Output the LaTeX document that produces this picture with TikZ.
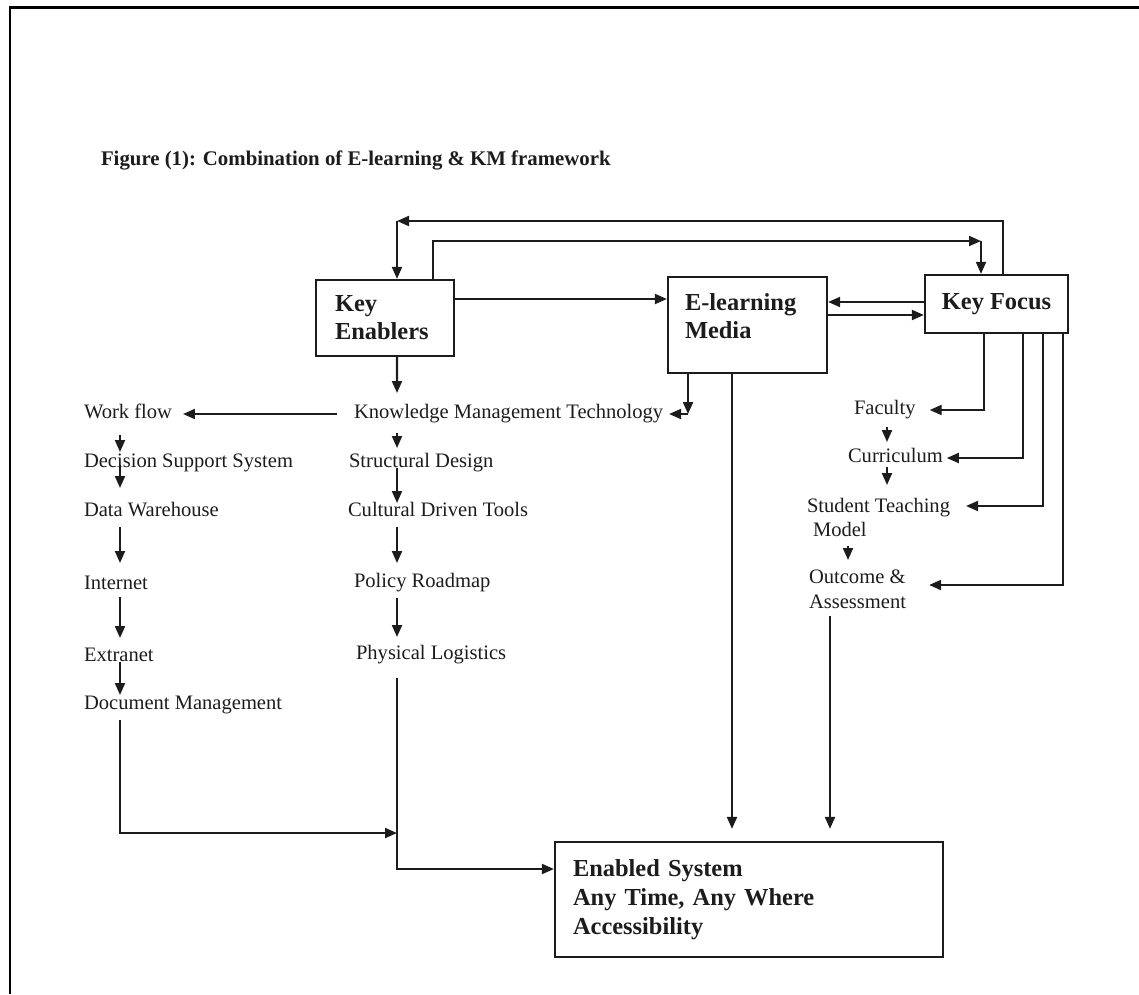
\documentclass[tikz,border=0pt]{standalone}
\usepackage{fontspec}
\setmainfont{Liberation Serif}
\usetikzlibrary{arrows.meta}
\definecolor{ink}{HTML}{1C1C1C}

\begin{document}
\begin{tikzpicture}[x=0.02cm,y=-0.02cm,color=ink,line width=1.15pt,
  arr/.style={-{Triangle[length=2.4mm,width=2mm]}},
  item/.style={anchor=west,inner sep=0pt,text height=8pt,text depth=2.5pt,font=\fontsize{11.7}{14}\selectfont},
  multi/.style={anchor=north west,inner sep=0pt,align=left,font=\fontsize{11.7}{13.9}\selectfont},
  block/.style={draw,line width=1.3pt,inner ysep=0pt,align=left,font=\bfseries\fontsize{13.9}{16}\selectfont}]
\useasboundingbox (0,0) rectangle (1139,994);
\draw[black,line width=0.06cm] (10,994) -- (10,7) -- (1139,7);

\node[anchor=west,inner sep=0pt,font=\bfseries\fontsize{11.85}{14}\selectfont] (title) at (100,160)
  {Figure (1): Combination of E-learning \& KM framework};

% boxes
\node[block,minimum width=2.76cm,minimum height=1.52cm,text width=2.0cm,inner xsep=.38cm] (ke) at (385,318) {Key\\Enablers};
\node[block,minimum width=3.18cm,minimum height=1.92cm,text width=2.5cm,inner xsep=.34cm] (em) at (747.5,325) {E-learning\\Media\\[-6pt]\mbox{}};
\node[block,minimum width=2.86cm,minimum height=1.16cm] (kf) at (996.5,304) {Key Focus};
\node[block,minimum width=7.76cm,minimum height=2.3cm,text width=7.04cm,inner xsep=.36cm,
  font=\bfseries\fontsize{13.9}{16.6}\selectfont] (es) at (749,899.5) {Enabled System\\Any Time, Any Where\\Accessibility};

% texts
\foreach \n/\x/\y/\t in {wf/83/414/Work flow, dss/83/463/Decision Support System, dw/83/512/Data Warehouse,
    int/83/585/Internet, ext/83/657/Extranet, dm/83/705/Document Management,
    kmt/353/414/Knowledge Management Technology, sd/348/463/Structural Design, cdt/347/512/Cultural Driven Tools,
    pr/353/583/Policy Roadmap, pl/355/655/Physical Logistics, fac/853/410/Faculty, cur/847/458/Curriculum}
  \node[item] (\n) at (\x,\y) {\t};
\node[multi] (stm) at (806,497) {Student Teaching\\\hspace{.12cm}Model};
\node[multi] (out) at (808,569) {Outcome \&\\Assessment};

\coordinate (colL) at (120,0);
\coordinate (colM) at (397,0);
\coordinate (colR) at (887,0);
\coordinate (colS) at (848,0);
\coordinate (colT) at (830,0);
\coordinate (tl) at (397,221);
\coordinate (tr) at (981,241);
\coordinate (meet) at (397,833);

% top loops
\draw[arr] ([xshift=.13cm]kf.north) |- (tl);
\draw[arr] (tl) -- (ke.north -| tl);
\draw[arr] ([xshift=.96cm]ke.north) |- (tr);
\draw[arr] (tr) -- (kf.north -| tr);

\draw[arr] ([yshift=.38cm]ke.east) -- ([yshift=.38cm]ke.east -| em.west);
\draw[arr] ([yshift=.04cm]kf.west) -- ([yshift=.04cm]kf.west -| em.east);
\draw[arr] ([yshift=-.22cm]kf.west -| em.east) -- ([yshift=-.22cm]kf.west);

\draw[arr] ([xshift=.24cm]ke.south) -- ([yshift=.42cm]kmt.center -| colM);
\draw[arr] ([xshift=-1.19cm]em.south) -- ([xshift=-1.19cm]em.south |- kmt.east);
\draw[arr] ([xshift=-1.19cm]em.south |- kmt.east) -- ([xshift=.1cm]kmt.east);
\draw[arr,shorten >=.24cm] ([xshift=-.31cm]em.south) -- ([xshift=-.31cm]em.south |- es.north);
\draw[arr,shorten <=.32cm,shorten >=.2cm] (kmt.west) -- (wf.east);

% columns
\foreach \a/\b/\s/\e in {wf/dss/-.42cm/.22cm, dss/dw/-.04cm/.48cm, dw/int/-.3cm/.44cm, int/ext/-.24cm/.38cm, ext/dm/-.1cm/.2cm}
  \draw[arr] ([yshift=\s]\a.center -| colL) -- ([yshift=\e]\b.center -| colL);
\foreach \a/\b/\s/\e in {kmt/sd/-.38cm/.3cm, sd/cdt/-.1cm/.18cm, cdt/pr/-.3cm/.4cm, pr/pl/-.3cm/.36cm}
  \draw[arr] ([yshift=\s]\a.center -| colM) -- ([yshift=\e]\b.center -| colM);

\draw[arr] ([yshift=-.34cm]fac.center -| colR) -- ([yshift=.32cm]cur.center -| colR);
\draw[arr] ([yshift=-.18cm]cur.center -| colR) -- ([yshift=.24cm]stm.north -| colR);
\draw[arr] ([yshift=-.16cm]stm.south -| colS) -- ([yshift=.18cm]out.north -| colS);

% key focus branches
\draw[arr] ([xshift=-.25cm]kf.south) |- ([xshift=.26cm]fac.east);
\draw[arr] ([xshift=.53cm]kf.south) |- ([xshift=.06cm]cur.east);
\draw[arr] ([xshift=.93cm]kf.south) |- ([xshift=.3cm,yshift=-.18cm]stm.north east);
\draw[arr] ([xshift=1.33cm]kf.south) |- ([xshift=.44cm,yshift=-.32cm]out.north east);

% into the enabled system
\draw[arr,shorten >=.24cm] ([yshift=-.14cm]out.south -| colT) -- (es.north -| colT);
\draw[arr] ([yshift=-.3cm]dm.center -| colL) |- (meet);
\draw[arr] ([yshift=-.46cm]pl.center -| colM) |- ([yshift=.61cm]es.west);
\end{tikzpicture}
\end{document}
